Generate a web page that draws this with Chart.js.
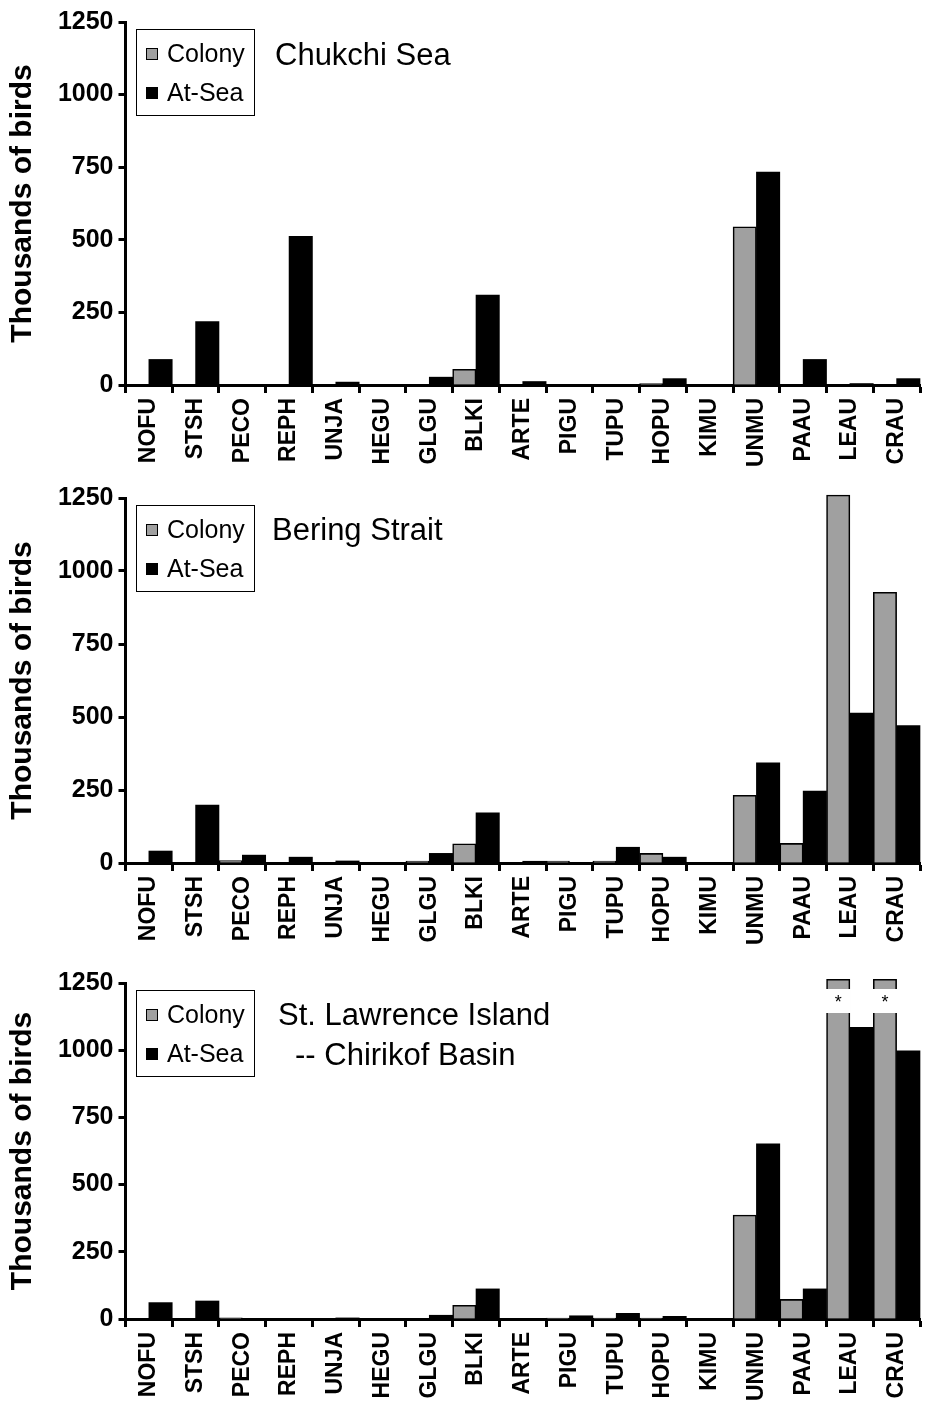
<!DOCTYPE html>
<html>
<head>
<meta charset="utf-8">
<script src="https://cdn.jsdelivr.net/npm/chart.js@4.4.1/dist/chart.umd.min.js"></script>
<style>
html,body{margin:0;padding:0;background:#fff;}
body{width:927px;height:1416px;position:relative;overflow:hidden;}
canvas{position:absolute;left:0;}
</style>
</head>
<body>
<canvas id="c1" width="927" height="475" style="top:0px;width:927px;height:475px"></canvas>
<canvas id="c2" width="927" height="480" style="top:475px;width:927px;height:480px"></canvas>
<canvas id="c3" width="927" height="461" style="top:955px;width:927px;height:461px"></canvas>
<script>
// ---- data ----
const categories = ['NOFU','STSH','PECO','REPH','UNJA','HEGU','GLGU','BLKI','ARTE','PIGU','TUPU','HOPU','KIMU','UNMU','PAAU','LEAU','CRAU'];
const seriesNames = ['Colony','At-Sea'];
const yAxisTitle = 'Thousands of birds';
const yTickValues = [0, 250, 500, 750, 1000, 1250];

const chukchiColony = [0,0,0,0,0,0,0,54,0,0,0,5,0,545,0,0,0];
const chukchiAtSea  = [88,218,0,512,10,0,27,310,12,0,0,22,0,733,88,5,22];

const beringColony  = [0,0,8,0,0,0,7,66,0,7,7,33,0,232,67,1260,927];
const beringAtSea   = [41,198,27,20,7,0,33,172,6,0,54,20,0,343,246,513,471];

const lawrenceColony = [0,0,4,0,0,0,0,51,0,3,3,3,0,387,73,1264,1264];
const lawrenceAtSea  = [61,67,0,0,4,0,14,112,0,12,21,10,0,652,112,1085,998];

const panelTitles = [['Chukchi Sea'], ['Bering Strait'], ['St. Lawrence Island', '-- Chirikof Basin']];
const offScaleCategories = ['LEAU','CRAU'];

// ---- styles ----
const FONT = '"Liberation Sans", Arial, sans-serif';
const GRAY = '#a0a0a0';

const panelDecor = {
  id: 'panelDecor',
  afterDraw(chart, args, opts) {
    const {ctx, chartArea} = chart;
    const top = chartArea.top;
    ctx.save();
    // legend box
    const bx = 136.5, bw = 118, by = top + 7.5, bh = 86;
    ctx.fillStyle = '#fff';
    ctx.fillRect(bx, by, bw, bh);
    ctx.strokeStyle = '#000';
    ctx.lineWidth = 1;
    ctx.strokeRect(bx, by, bw, bh);
    const rows = [32, 71];
    chart.data.datasets.forEach((ds, i) => {
      const cy = top + rows[i];
      ctx.fillStyle = ds.backgroundColor;
      ctx.fillRect(146.5, cy - 5.5, 11, 11);
      ctx.lineWidth = 1;
      ctx.strokeStyle = '#000';
      ctx.strokeRect(146.5, cy - 5.5, 11, 11);
      ctx.fillStyle = '#000';
      ctx.font = '25px ' + FONT;
      ctx.textBaseline = 'middle';
      ctx.textAlign = 'left';
      ctx.fillText(ds.label, 167, cy + 1);
    });
    // panel title
    ctx.font = '31px ' + FONT;
    ctx.fillStyle = '#000';
    ctx.textBaseline = 'middle';
    ctx.textAlign = 'left';
    opts.lines.forEach((line, k) => {
      ctx.fillText(line, opts.xs[k], top + opts.ys[k]);
    });
    ctx.restore();
  }
};

const breakMarks = {
  id: 'breakMarks',
  afterDatasetsDraw(chart, args, opts) {
    if (!opts.categories || !opts.categories.length) return;
    const {ctx, chartArea} = chart;
    const meta = chart.getDatasetMeta(0);
    ctx.save();
    opts.categories.forEach(cat => {
      const i = chart.data.labels.indexOf(cat);
      const bar = meta.data[i];
      const w = bar.width + 2;
      ctx.fillStyle = '#fff';
      ctx.fillRect(bar.x - w / 2, chartArea.top + 6, w, 24);
      ctx.fillStyle = '#000';
      ctx.font = '18px ' + FONT;
      ctx.textAlign = 'center';
      ctx.textBaseline = 'middle';
      ctx.fillText('*', bar.x, chartArea.top + 20);
    });
    ctx.restore();
  }
};

function makeChart(id, colony, atSea, cfg) {
  return new Chart(document.getElementById(id), {
    type: 'bar',
    data: {
      labels: categories,
      datasets: [
        {label: seriesNames[0], data: colony, backgroundColor: GRAY, borderColor: '#000', borderWidth: 1.6,
         clip: false, barPercentage: 1, categoryPercentage: 1},
        {label: seriesNames[1], data: atSea, backgroundColor: '#000', borderColor: '#000', borderWidth: 0,
         clip: false, barPercentage: 1, categoryPercentage: 1}
      ]
    },
    options: {
      responsive: false,
      animation: false,
      devicePixelRatio: 1,
      layout: {padding: {top: cfg.padTop, right: 7, left: 0, bottom: 0}},
      plugins: {
        legend: {display: false},
        tooltip: {enabled: false},
        title: {display: false},
        panelDecor: cfg.decor,
        breakMarks: {categories: cfg.breaks || []}
      },
      scales: {
        x: {
          grid: {display: true, drawOnChartArea: false, drawTicks: true, tickLength: 8, tickWidth: 3, color: '#000', offset: true},
          border: {display: true, color: '#000', width: 3},
          ticks: {autoSkip: false, minRotation: 90, maxRotation: 90, padding: 5, color: '#000',
                  font: {family: FONT, size: 23, weight: 'bold'}},
          afterFit(s) { s.height = cfg.xHeight; s.paddingLeft = 0; s.paddingRight = 0; }
        },
        y: {
          min: yTickValues[0],
          max: yTickValues[yTickValues.length - 1],
          afterBuildTicks(s) { s.ticks = yTickValues.map(v => ({value: v})); },
          ticks: {padding: 5, color: '#000', font: {family: FONT, size: 25, weight: 'bold'},
                  callback: v => String(v)},
          grid: {display: true, drawOnChartArea: false, drawTicks: true, tickLength: 7, tickWidth: 3, color: '#000'},
          border: {display: true, color: '#000', width: 3},
          title: {display: true, text: yAxisTitle, color: '#000', font: {family: FONT, size: 30, weight: 'bold'}, padding: {top: 5, bottom: 0}},
          afterFit(s) { s.width = 125.5; s.paddingTop = 0; s.paddingBottom = 0; }
        }
      }
    },
    plugins: [panelDecor, breakMarks]
  });
}

makeChart('c1', chukchiColony, chukchiAtSea, {
  padTop: 22, xHeight: 90,
  decor: {lines: panelTitles[0], xs: [275], ys: [34]}
});
makeChart('c2', beringColony, beringAtSea, {
  padTop: 23, xHeight: 92,
  decor: {lines: panelTitles[1], xs: [272], ys: [33]}
});
makeChart('c3', lawrenceColony, lawrenceAtSea, {
  padTop: 28, xHeight: 97,
  decor: {lines: panelTitles[2], xs: [278, 295], ys: [33, 73]},
  breaks: offScaleCategories
});
</script>
</body>
</html>
